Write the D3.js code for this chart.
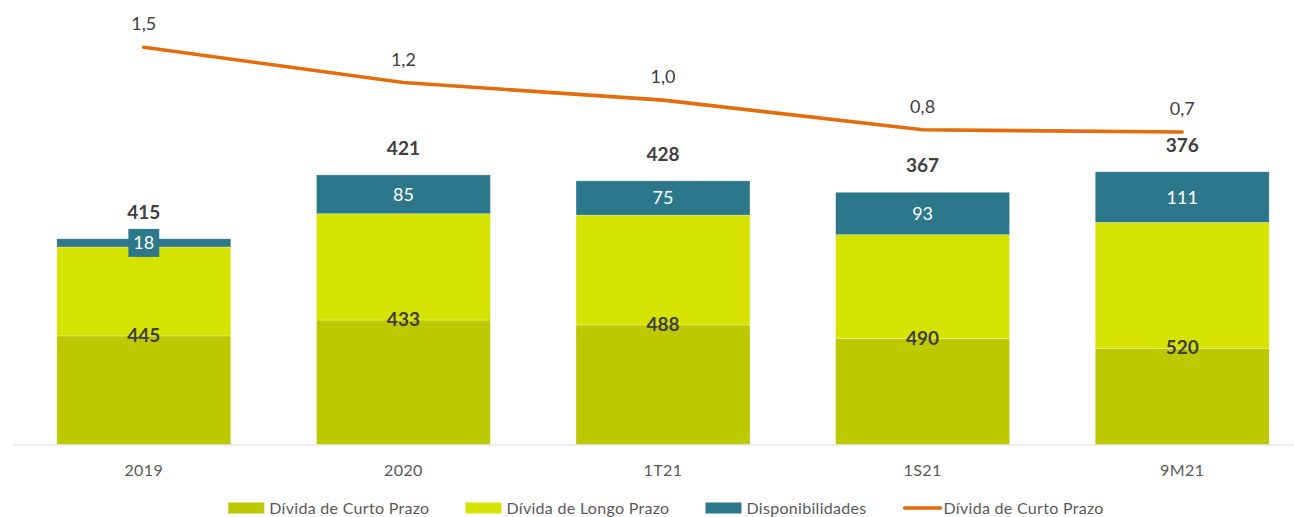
<!DOCTYPE html>
<html>
<head>
<meta charset="utf-8">
<script src="https://cdn.jsdelivr.net/npm/d3@7"></script>
<style>
  body { margin: 0; background: #fff; }
  svg { display: block; font-family: Lato, "Open Sans", sans-serif; }
</style>
</head>
<body>
<script>
// dados (milhões)
var categorias = ["2019", "2020", "1T21", "1S21", "9M21"];
var dividaCurto = [238, 273, 262, 232, 211];
var dividaLongo = [195, 233, 241, 228, 276];
var disponibilidades = [18, 85, 75, 93, 111];
var dividaLiquida = [415, 421, 428, 367, 376];
var rotulosBarra = [445, 433, 488, 490, 520];
var alavancagem = [1.51, 1.19, 1.03, 0.76, 0.74];

var legendas = ["Dívida de Curto Prazo", "Dívida de Longo Prazo", "Disponibilidades", "Dívida de Curto Prazo"];

var width = 1294, height = 517;
var cores = { curto: "#BCC800", longo: "#D4E300", disp: "#2D778B", linha: "#E46C0A" };

var svg = d3.select("body").append("svg")
    .attr("width", width)
    .attr("height", height);

var x = d3.scaleBand()
    .domain(categorias)
    .range([14, 1312])
    .paddingInner(0.33)
    .paddingOuter(0.165);

var y = d3.scaleLinear()
    .domain([0, 900])
    .range([444.5, 34]);

var yLinha = d3.scaleLinear()
    .domain([0, 1.5])
    .range([213.4, 48.4]);

var data = categorias.map(function(c, i) {
    return {
        cat: c,
        curto: dividaCurto[i],
        longo: dividaLongo[i],
        disp: disponibilidades[i],
        liquida: dividaLiquida[i],
        rotulo: rotulosBarra[i],
        alav: alavancagem[i]
    };
});

var series = d3.stack().keys(["curto", "longo", "disp"])(data);

// barras empilhadas
svg.append("g")
    .selectAll("g")
    .data(series)
    .enter().append("g")
    .attr("fill", function(s) { return cores[s.key]; })
    .selectAll("rect")
    .data(function(s) { return s; })
    .enter().append("rect")
    .attr("x", function(d) { return x(d.data.cat); })
    .attr("width", x.bandwidth())
    .attr("y", function(d) { return y(d[1]); })
    .attr("height", function(d) { return y(d[0]) - y(d[1]); })
    .attr("stroke", "#ffffff")
    .attr("stroke-opacity", 0.45)
    .attr("stroke-width", 0.6);

// eixo x
var xAxis = svg.append("g")
    .attr("transform", "translate(0," + y(0) + ")")
    .call(d3.axisBottom(x).tickSize(0).tickPadding(20));
xAxis.select(".domain")
    .attr("d", "M14,0.5H1312")
    .attr("stroke", "#D9D9D9")
    .attr("stroke-width", 1.2);
xAxis.selectAll("text")
    .attr("fill", "#595959")
    .style("font-family", "Lato, sans-serif")
    .style("font-size", "16px")
    .style("letter-spacing", "0.4px");

// linha
var linha = d3.line()
    .x(function(d) { return x(d.cat) + x.bandwidth() / 2; })
    .y(function(d) { return yLinha(d.alav); });

svg.append("path")
    .datum(data)
    .attr("fill", "none")
    .attr("stroke", cores.linha)
    .attr("stroke-width", 3.6)
    .attr("stroke-linecap", "round")
    .attr("stroke-linejoin", "round")
    .attr("d", linha);

var fmt = function(v) { return v.toFixed(1).replace(".", ","); };

svg.append("g")
    .selectAll("text")
    .data(data)
    .enter().append("text")
    .attr("x", function(d) { return x(d.cat) + x.bandwidth() / 2; })
    .attr("y", function(d) { return yLinha(d.alav) - 17; })
    .attr("text-anchor", "middle")
    .attr("fill", "#404040")
    .style("font-size", "18px")
    .text(function(d) { return fmt(d.alav); });

// rotulos disponibilidades (caixa teal + texto branco)
var disp = svg.append("g")
    .selectAll("g")
    .data(series[2])
    .enter().append("g")
    .attr("transform", function(d) {
        return "translate(" + (x(d.data.cat) + x.bandwidth() / 2) + "," + ((y(d[0]) + y(d[1])) / 2) + ")";
    });
disp.append("text")
    .attr("text-anchor", "middle")
    .attr("dy", "0.36em")
    .attr("fill", "#ffffff")
    .style("font-size", "18px")
    .text(function(d) { return d.data.disp; })
    .each(function() {
        var w = this.getComputedTextLength();
        d3.select(this.parentNode).insert("rect", "text")
            .attr("x", -w / 2 - 5)
            .attr("y", -14)
            .attr("width", w + 10)
            .attr("height", 28)
            .attr("fill", cores.disp);
    });

// rotulos dentro da barra
svg.append("g")
    .selectAll("text")
    .data(series[0])
    .enter().append("text")
    .attr("x", function(d) { return x(d.data.cat) + x.bandwidth() / 2; })
    .attr("y", function(d) { return y(d[1]) + 6; })
    .attr("text-anchor", "middle")
    .attr("fill", "#404040")
    .style("font-size", "19px")
    .style("font-weight", "bold")
    .text(function(d) { return d.data.rotulo; });

// divida liquida acima da barra
svg.append("g")
    .selectAll("text")
    .data(series[2])
    .enter().append("text")
    .attr("x", function(d) { return x(d.data.cat) + x.bandwidth() / 2; })
    .attr("y", function(d) { return y(d[1]) - 20; })
    .attr("text-anchor", "middle")
    .attr("fill", "#404040")
    .style("font-size", "19px")
    .style("font-weight", "bold")
    .text(function(d) { return d.data.liquida; });

// legenda
var legenda = svg.append("g").attr("transform", "translate(0,508)");
var itens = [
    { nome: legendas[0], cor: cores.curto, tipo: "rect" },
    { nome: legendas[1], cor: cores.longo, tipo: "rect" },
    { nome: legendas[2], cor: cores.disp, tipo: "rect" },
    { nome: legendas[3], cor: cores.linha, tipo: "line" }
];
var pos = 0;
itens.forEach(function(it) {
    var g = legenda.append("g");
    if (it.tipo == "rect") {
        g.append("rect").attr("x", 0).attr("y", -5.5).attr("width", 36).attr("height", 11).attr("fill", it.cor);
    } else {
        g.append("line").attr("x1", 2).attr("x2", 38).attr("y1", 0).attr("y2", 0)
            .attr("stroke", it.cor).attr("stroke-width", 3.6).attr("stroke-linecap", "round");
    }
    var t = g.append("text")
        .attr("x", 41)
        .attr("y", 5.5)
        .attr("fill", "#595959")
        .style("font-size", "16px")
        .style("letter-spacing", "0.3px")
        .text(it.nome);
    var w = 41 + t.node().getComputedTextLength();
    g.attr("transform", "translate(" + pos + ",0)");
    pos += w + 36;
});
var total = pos - 36;
legenda.attr("transform", "translate(" + (666 - total / 2) + ",508)");
</script>
</body>
</html>
